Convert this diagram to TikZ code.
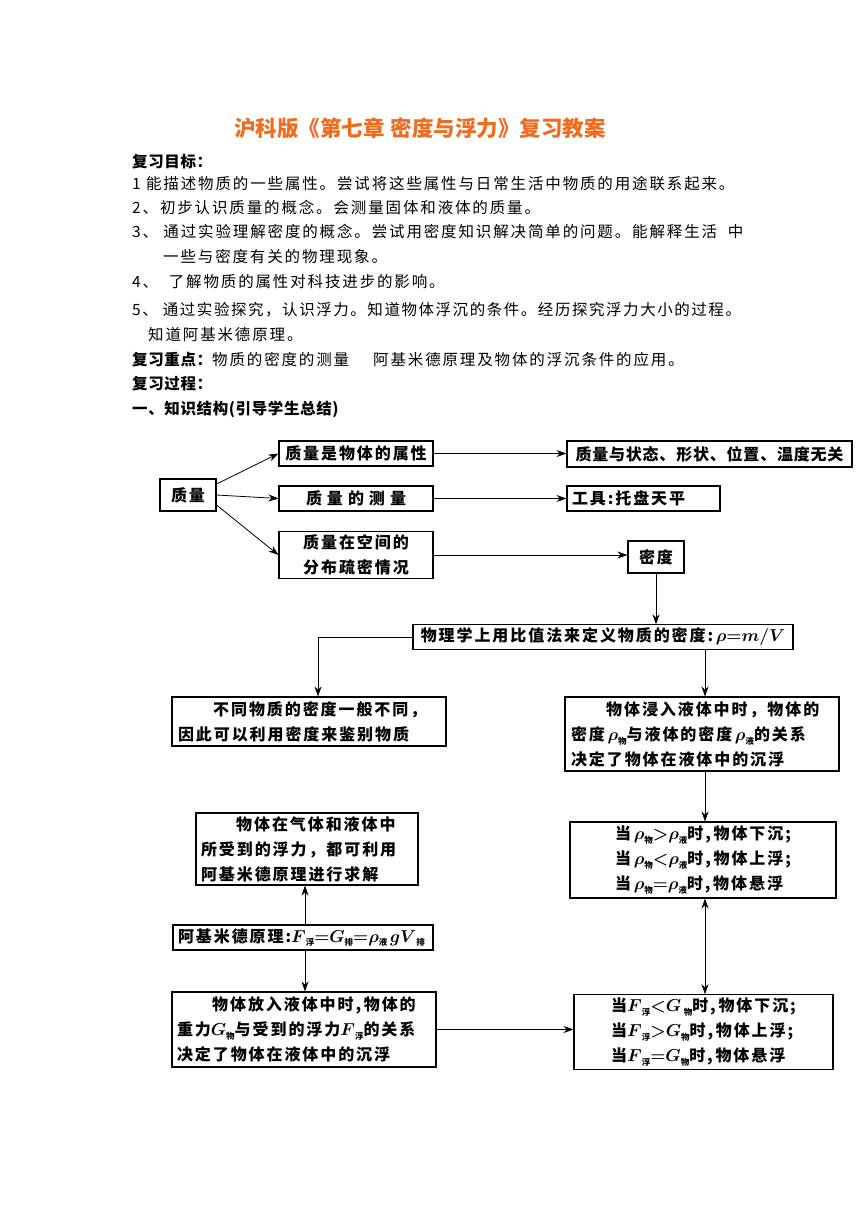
\documentclass[tikz,border=0pt]{standalone}
\usepackage{amsmath}
\usepackage{fontspec}
\setmainfont{Noto Sans CJK SC}
\usetikzlibrary{arrows.meta}
\definecolor{titleorange}{HTML}{F26B1D}
\newcommand\ssub[1]{\raisebox{-0.45ex}{\fontsize{8.5}{8.5}\selectfont\addfontfeature{LetterSpace=0} #1}}
\newcommand\brho{\ensuremath{\boldsymbol{\rho}}}
\newcommand\bF{\ensuremath{\boldsymbol{F}}}
\newcommand\bG{\ensuremath{\boldsymbol{G}}}
\begin{document}
\begin{tikzpicture}[x=1pt,y=-1pt,
  body/.style={anchor=west,inner sep=0pt,font=\fontsize{15.5}{18}\selectfont\addfontfeature{LetterSpace=12}},
  bodyb/.style={anchor=west,inner sep=0pt,font=\fontsize{15.5}{18}\selectfont\bfseries\addfontfeature{LetterSpace=4}},
  box/.style={draw,line width=1.1pt,inner sep=3pt,font=\fontsize{16}{25}\selectfont\bfseries\addfontfeature{LetterSpace=12}},
  tip/.tip={Stealth[length=10pt,width=7pt]},
  arr/.style={-tip,line width=0.8pt}]
\useasboundingbox (0,0) rectangle (860,1216);
\fill[white] (0,0) rectangle (860,1216);
% title and text
\node[anchor=center,inner sep=0pt,text=titleorange,font=\fontsize{21.5}{24}\selectfont\bfseries] (title) at (420,128) {沪科版《第七章\hspace{6pt}密度与浮力》复习教案};
\node[bodyb] (t0) at (132,162) {复习目标：};
\node[body] (t1) at (132,184) {1\ 能描述物质的一些属性。尝试将这些属性与日常生活中物质的用途联系起来。};
\node[body] (t2) at (132,207) {2、初步认识质量的概念。会测量固体和液体的质量。};
\node[body] (t3) at (132,232) {3、\ 通过实验理解密度的概念。尝试用密度知识解决简单的问题。能解释生活\ \ 中};
\node[body] (t4) at (163,257) {一些与密度有关的物理现象。};
\node[body] (t5) at (132,282) {4、\ \ 了解物质的属性对科技进步的影响。};
\node[body,font=\fontsize{15.5}{18}\selectfont\addfontfeature{LetterSpace=10}] (t6) at (132,310) {5、\ 通过实验探究，认识浮力。知道物体浮沉的条件。经历探究浮力大小的过程。};
\node[body] (t7) at (148,335) {知道阿基米德原理。};
\node[body] (t8) at (132,360) {{\bfseries\addfontfeature{LetterSpace=4}复习重点：}物质的密度的测量\hspace{24pt}阿基米德原理及物体的浮沉条件的应用。};
\node[bodyb] (t9) at (132,384) {复习过程：};
\node[bodyb] (t10) at (132,409) {一、知识结构(引导学生总结)};
% diagram boxes
\node[box,minimum width=56,minimum height=32] (zl) at (188,495) {质量};
\node[box,minimum width=154,minimum height=25] (sx) at (356,453.5) {质量是物体的属性};
\node[box,minimum width=154,minimum height=25] (cl) at (356,498.5) {质\hspace{5pt}量\hspace{5pt}的\hspace{5pt}测\hspace{5pt}量};
\node[box,minimum width=154,minimum height=46,align=center] (fb) at (356,555) {质量在空间的\\分布疏密情况};
\node[box,minimum width=285,minimum height=26,font=\fontsize{16}{25}\selectfont\bfseries\addfontfeature{LetterSpace=5}] (wg) at (709.5,454) {质量与状态、形状、位置、温度无关};
\node[box,minimum width=153,minimum height=25,text width=143,align=left] (gj) at (643.5,498.5) {工具:托盘天平};
\node[box,minimum width=56,minimum height=32] (md) at (656,557) {密度};
\node[box,minimum width=380,minimum height=24] (dy) at (603,637) {物理学上用比值法来定义物质的密度:\,$\boldsymbol{\rho{=}m/V}$};
\node[box,minimum width=274,minimum height=49,text width=262,align=left] (bt) at (309,721.5) {\hspace*{2.2em}不同物质的密度一般不同，\\因此可以利用密度来鉴别物质};
\node[box,minimum width=274,minimum height=74,text width=262,align=left] (jr) at (702,734) {\hspace*{2.2em}物体浸入液体中时，物体的\\密度\,\brho\ssub{物}与液体的密度\,\brho\ssub{液}的关系\\决定了物体在液体中的沉浮};
\node[box,minimum width=222,minimum height=72,text width=212,align=left] (qt) at (307,849) {\hspace*{2.2em}物体在气体和液体中\\所受到的浮力，都可利用\\阿基米德原理进行求解};
\node[box,minimum width=266,minimum height=76,align=left] (rc) at (703,860) {当\,\brho\ssub{物}$\boldsymbol{>}$\brho\ssub{液}时,\,物体下沉;\\当\,\brho\ssub{物}$\boldsymbol{<}$\brho\ssub{液}时,\,物体上浮;\\当\,\brho\ssub{物}$\boldsymbol{=}$\brho\ssub{液}时,\,物体悬浮};
\node[box,minimum width=260,minimum height=25,text width=250,align=left] (am) at (303,937.5) {阿基米德原理:\bF\ssub{浮}$\boldsymbol{=}$\bG\ssub{排}$\boldsymbol{=}$\brho\ssub{液}\,$\boldsymbol{gV}$\ssub{排}};
\node[box,minimum width=264,minimum height=75,text width=254,align=left] (fr) at (304,1029.5) {\hspace*{2.2em}物体放入液体中时,\,物体的\\重力\bG\ssub{物}与受到的浮力\bF\ssub{浮}的关系\\决定了物体在液体中的沉浮};
\node[box,minimum width=259,minimum height=72,align=left] (fc) at (703.5,1032) {当\bF\ssub{浮}$\boldsymbol{<}$\bG\,\ssub{物}时,\,物体下沉;\\当\bF\ssub{浮}$\boldsymbol{>}$\bG\ssub{物}时,\,物体上浮;\\当\bF\ssub{浮}$\boldsymbol{=}$\bG\ssub{物}时,\,物体悬浮};
% connectors
\draw[arr] ([yshift=11pt]zl.east) -- (sx.west);
\draw[arr] (zl.east) -- (cl.west);
\draw[arr] ([yshift=-10pt]zl.east) -- (fb.west);
\draw[arr] (sx.east) -- (wg.west |- sx.east);
\draw[arr] (cl.east) -- (gj.west |- cl.east);
\draw[arr] (fb.east) -- (md.west |- fb.east);
\draw[arr] (md.south) -- (md.south |- dy.north);
\draw[arr] (dy.west) -| ([xshift=9pt]bt.north);
\coordinate (rx) at ([xshift=102pt]dy.south);
\draw[arr] (rx) -- (rx |- jr.north);
\draw[arr] (rx |- jr.south) -- (rx |- rc.north);
\draw[tip-tip,line width=0.8pt] (rx |- rc.south) -- (rx |- fc.north);
\coordinate (ax) at ([xshift=2pt]am.north);
\draw[arr] (ax) -- (ax |- qt.south);
\draw[arr] (ax |- am.south) -- (ax |- fr.north);
\draw[arr] (fr.east) -- (fr.east -| fc.west);
\end{tikzpicture}
\end{document}
